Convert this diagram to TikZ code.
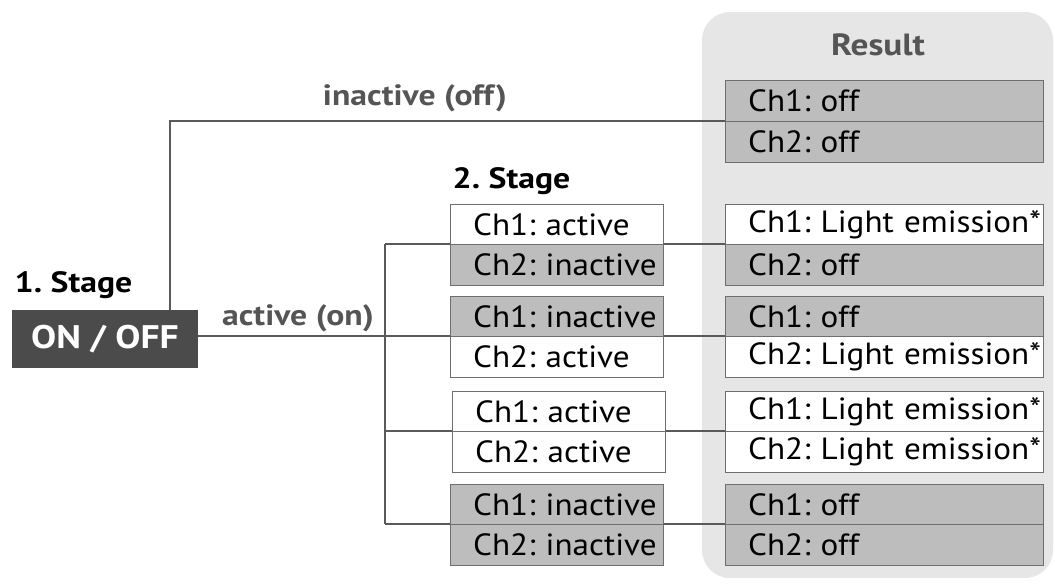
\documentclass[tikz,border=0pt]{standalone}
\usepackage{fontspec}
\setmainfont{PT Sans}[FakeStretch=1.08, BoldFeatures={FakeStretch=1.15}]
\frenchspacing
\definecolor{panelgray}{HTML}{E6E6E6}
\definecolor{boxgray}{HTML}{BDBDBD}
\definecolor{boxborder}{HTML}{6E6E6E}
\definecolor{linegray}{HTML}{5A5A5A}
\definecolor{darkbox}{HTML}{4B4B4B}
\definecolor{labelgray}{HTML}{555555}
\tikzset{
  row/.style={draw=boxborder, line width=0.8pt, anchor=north west, inner xsep=0pt, inner ysep=0pt,
    align=left, font=\fontsize{23}{26}\selectfont, text=black,
    execute at begin node={\hspace*{17pt}}},
  srow/.style={row, text width=159.75pt, minimum height=30.4pt},
  rrow/.style={row, text width=238.5pt, minimum height=30.4pt},
  on/.style={fill=white},
  off/.style={fill=boxgray},
  conn/.style={draw=linegray, line width=1pt},
  lbl/.style={font=\fontsize{22}{26}\selectfont\bfseries, text=labelgray},
  title/.style={font=\fontsize{22}{26}\selectfont\bfseries, text=black},
  switchbox/.style={fill=darkbox, text=white, font=\fontsize{24.5}{28}\selectfont\bfseries,
    minimum width=139.5pt, minimum height=43.5pt, inner sep=0pt}
}
\begin{document}
\begin{tikzpicture}[x=0.75pt,y=-0.75pt]
\useasboundingbox (0,0) rectangle (1055,587);
% result panel
\fill[panelgray, rounded corners=21pt] (702,12) rectangle (1053,578);
\node[lbl, font=\fontsize{23}{26}\selectfont\bfseries] (restitle) at (878,45) {Result};

% coordinates for connectors
\coordinate (split) at (170,336);
\coordinate (trunk) at (385,336);

\node[title, anchor=west] (st1) at (10,285) {1. Stage};
\node[title, anchor=west] (st2) at (448,181) {2. Stage};
\node[lbl] (linact) at (415,98) {inactive (off)};
\node[lbl] (lact) at (298,318) {active (on)};

% result rows
\node[rrow, off] (r1a) at (725,80) {Ch1: off};
\node[rrow, off] (r1b) at (725,121) {Ch2: off};
\node[rrow, on]  (r2a) at (725,204) {Ch1: Light emission*};
\node[rrow, off] (r2b) at (725,244) {Ch2: off};
\node[rrow, off] (r3a) at (725,296) {Ch1: off};
\node[rrow, on]  (r3b) at (725,336) {Ch2: Light emission*};
\node[rrow, on]  (r4a) at (725,391) {Ch1: Light emission*};
\node[rrow, on]  (r4b) at (725,431) {Ch2: Light emission*};
\node[rrow, off] (r5a) at (725,484) {Ch1: off};
\node[rrow, off] (r5b) at (725,524) {Ch2: off};

% connectors (behind stage-2 boxes and the switch box)
\draw[conn] (split) |- (r1b.north west);
\draw[conn] (split) -- (r3b.north west);
\draw[conn] (trunk |- r2b.north west) -- (trunk |- r5b.north west);
\draw[conn] (trunk |- r2b.north west) -- (r2b.north west);
\draw[conn] (trunk |- r4b.north west) -- (r4b.north west);
\draw[conn] (trunk |- r5b.north west) -- (r5b.north west);

% ON/OFF box
\node[switchbox] (onoff) at (105,339) {ON / OFF};

% stage 2 rows
\node[srow, on]  (s1a) at (450,204) {Ch1: active};
\node[srow, off] (s1b) at (450,244) {Ch2: inactive};
\node[srow, off] (s2a) at (450,296) {Ch1: inactive};
\node[srow, on]  (s2b) at (450,336) {Ch2: active};
\node[srow, on]  (s3a) at (452,391) {Ch1: active};
\node[srow, on]  (s3b) at (452,431) {Ch2: active};
\node[srow, off] (s4a) at (450,484) {Ch1: inactive};
\node[srow, off] (s4b) at (450,524) {Ch2: inactive};
\end{tikzpicture}
\end{document}
